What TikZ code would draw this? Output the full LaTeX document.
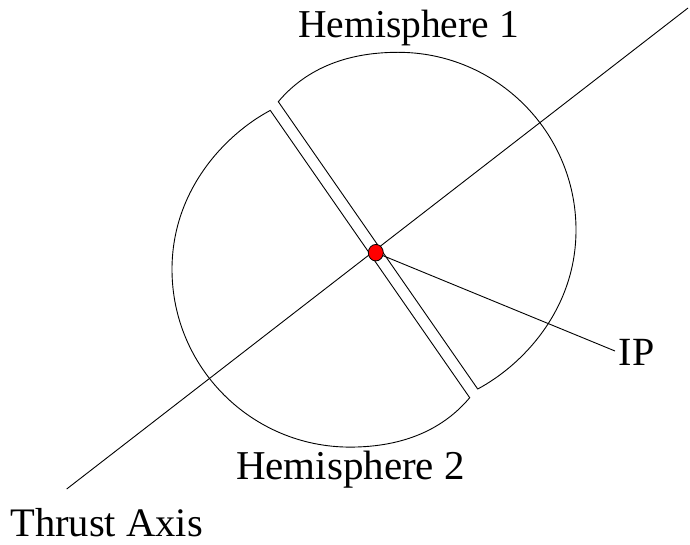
\documentclass[tikz,border=0pt]{standalone}
\usepackage{fontspec}
\setmainfont{Liberation Serif}
\usetikzlibrary{shapes.geometric}
\begin{document}
\begin{tikzpicture}[x=1pt,y=-1pt,line width=0.9pt,
  lbl/.style={inner sep=0pt,font=\fontsize{40}{48}\selectfont},
  hemi/.style={draw=black,line join=miter},
  ipdot/.style={ellipse,draw=black,fill=red,line width=0.8pt,minimum width=15pt,minimum height=16.5pt,inner sep=0pt}]
\useasboundingbox (0,0) rectangle (690,545);
% thrust axis and IP line
\coordinate (tlow) at (66.7,489);
\coordinate (thigh) at (688,8);
\coordinate (ipend) at (615,351);
\coordinate (ipc) at (375.8,252.7);
\draw (tlow) -- (thigh);
\draw (ipc) -- (ipend);
% hemisphere 1
\draw[hemi] (278.3,101.7) .. controls (304,71.1) and (343,52.3) .. (398,52.3)
  .. controls (496.3,52.3) and (576,131.9) .. (576,230)
  .. controls (576,310) and (521.9,365.5) .. (477.7,389) -- cycle;
% hemisphere 2
\draw[hemi] (270.3,110.4) .. controls (226.1,133.9) and (172,189.4) .. (172,269.4)
  .. controls (172,367.5) and (251.7,447.1) .. (350,447.1)
  .. controls (405,447.1) and (444,428.3) .. (469.7,397.7) -- cycle;
\node[ipdot] (ipdot) at (ipc) {};
% labels
\node[lbl,anchor=base,font=\fontsize{39.5}{48}\selectfont] (h1) at (408.5,38) {Hemisphere 1};
\node[lbl,anchor=base,font=\fontsize{41}{48}\selectfont] (h2) at (350.5,479) {Hemisphere 2};
\node[lbl,anchor=base west] (iplbl) at (618.5,365) {IP};
\node[lbl,anchor=base west,font=\fontsize{40.5}{48}\selectfont] (thrust) at (10,536) {Thrust Axis};
\end{tikzpicture}
\end{document}
